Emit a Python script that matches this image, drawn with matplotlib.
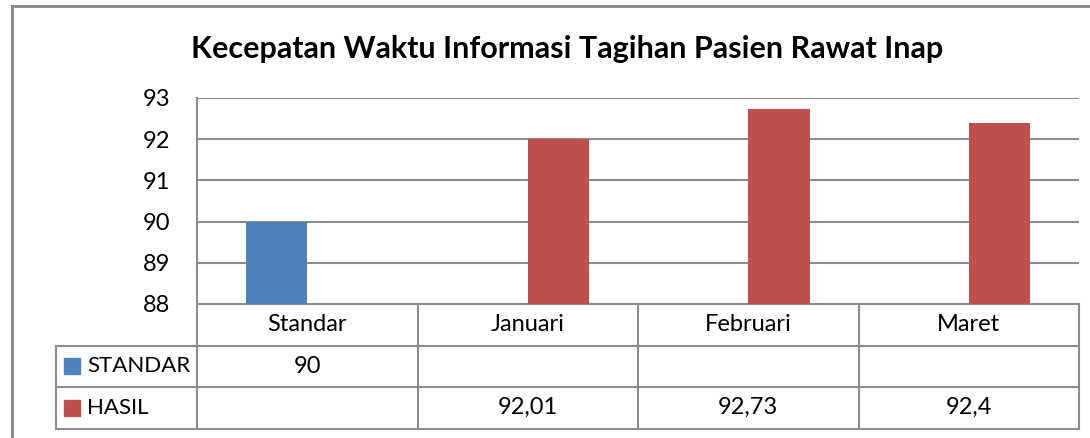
import numpy as np
import matplotlib.pyplot as plt
from matplotlib.lines import Line2D

plt.rcParams['font.family'] = ['Lato', 'DejaVu Sans']

title = 'Kecepatan Waktu Informasi Tagihan Pasien Rawat Inap'
categories = ['Standar', 'Januari', 'Februari', 'Maret']
series_names = ['STANDAR', 'HASIL']
standar = [90, None, None, None]
hasil = [None, 92.01, 92.73, 92.4]
colors = ['#4F81BD', '#C0504D']
y_ticks = [88, 89, 90, 91, 92, 93]

grid_c = '#8C8C8C'
W, H = 1090, 438
fs = 17

fig = plt.figure(figsize=(W / 100, H / 100), dpi=100)
ax = fig.add_axes([197 / W, 1 - 304 / H, 882 / W, 206 / H])

x = np.arange(len(categories))
bw = 0.28
for k, (vals, col) in enumerate(zip([standar, hasil], colors)):
    xs = [xi + (k - 0.5) * bw for xi, v in zip(x, vals) if v is not None]
    hs = [v for v in vals if v is not None]
    ax.bar(xs, hs, width=bw, color=col, zorder=3)

ax.set_xlim(-0.5, len(categories) - 0.5)
ax.set_ylim(y_ticks[0], y_ticks[-1])
ax.set_yticks(y_ticks)
ax.set_yticklabels([str(t) for t in y_ticks], fontsize=fs)
ax.tick_params(axis='y', length=0, pad=19)
ax.set_xticks([])
for s in ['top', 'right', 'bottom']:
    ax.spines[s].set_visible(False)
ax.spines['left'].set_color(grid_c)
ax.spines['left'].set_linewidth(1.5)
for t in y_ticks[1:]:
    ax.axhline(t, color=grid_c, lw=1.5, zorder=1)

# data table under the plot
row_h = 41.5 / 206
n_rows = len(series_names) + 1
leg_left = (56 - 197) / 882
tr = ax.transAxes
line_kw = dict(color=grid_c, lw=1.5, transform=tr, clip_on=False)
for r in range(n_rows + 1):
    x0 = 0 if r < 1 else leg_left
    ax.add_line(Line2D([x0, 1], [-r * row_h, -r * row_h], **line_kw))
n = len(categories)
for c in range(n + 1):
    xf = c / n
    ax.add_line(Line2D([xf, xf], [0, -n_rows * row_h], **line_kw))
ax.add_line(Line2D([leg_left, leg_left], [-row_h, -n_rows * row_h], **line_kw))

for c, cat in enumerate(categories):
    ax.text((c + 0.5) / n, -0.5 * row_h, cat, transform=tr, ha='center',
            va='center', fontsize=fs)

def fmt(v):
    return f'{v:g}'.replace('.', ',')

for r, (name, vals, col) in enumerate(zip(series_names, [standar, hasil], colors)):
    yc = -(r + 1.5) * row_h
    ax.plot([(72 - 197) / 882], [yc], marker='s', ms=11, color=col,
            transform=tr, clip_on=False)
    ax.text((87 - 197) / 882, yc, name, transform=tr, ha='left', va='center',
            fontsize=16)
    for c, v in enumerate(vals):
        if v is not None:
            ax.text((c + 0.5) / n, yc, fmt(v), transform=tr, ha='center',
                    va='center', fontsize=fs)

fig.text(567 / W, 1 - 49 / H, title, ha='center', va='center', fontsize=22,
         fontweight='bold')

# chart frame
fig.add_artist(Line2D([11.5 / W, 11.5 / W], [0, 1 - 6 / H], color='#868686',
                      lw=2, transform=fig.transFigure))
fig.add_artist(Line2D([11.5 / W, 1], [1 - 6 / H, 1 - 6 / H], color='#868686',
                      lw=2, transform=fig.transFigure))

fig.savefig('out.png', dpi=100)
